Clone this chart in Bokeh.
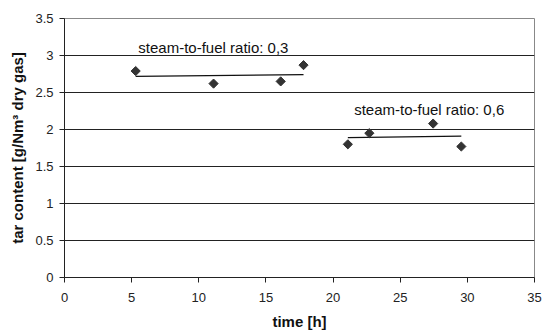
import numpy as np
from bokeh.plotting import figure
from bokeh.models import Range1d, FixedTicker, Label
from bokeh.embed import file_html
from bokeh.resources import INLINE

time_03 = [5.3, 11.1, 16.1, 17.8]
tar_03 = [2.79, 2.62, 2.65, 2.87]
time_06 = [21.1, 22.7, 27.45, 29.55]
tar_06 = [1.80, 1.95, 2.08, 1.77]
label_03 = "steam-to-fuel ratio: 0,3"
label_06 = "steam-to-fuel ratio: 0,6"
x_ticks = [0, 5, 10, 15, 20, 25, 30, 35]
y_ticks = [0, 0.5, 1, 1.5, 2, 2.5, 3, 3.5]

FONT = "Liberation Sans"

p = figure(output_backend="svg", toolbar_location=None,
           frame_width=470, frame_height=259,
           min_border_left=64, min_border_right=13, min_border_top=18, min_border_bottom=55,
           x_range=Range1d(0, 35), y_range=Range1d(0, 3.5))
p.background_fill_color = "white"
p.border_fill_color = "white"
p.outline_line_color = "#888888"

for ax in (p.xaxis[0], p.yaxis[0]):
    ax.axis_line_color = "#222222"
    ax.major_tick_line_color = "#222222"
    ax.major_tick_in = 0
    ax.major_tick_out = 5
    ax.minor_tick_line_color = None
    ax.major_label_text_font = FONT
    ax.major_label_text_font_size = "13px"
    ax.major_label_text_color = "#222222"
    ax.axis_label_text_font = FONT
    ax.axis_label_text_font_size = "15px"
    ax.axis_label_text_font_style = "bold"
    ax.axis_label_text_color = "#111111"

p.xaxis.ticker = FixedTicker(ticks=x_ticks)
p.yaxis.ticker = FixedTicker(ticks=y_ticks)
p.xaxis.major_label_standoff = 10
p.yaxis.major_label_standoff = 6
p.xaxis.axis_label = "time [h]"
p.yaxis.axis_label = "tar content [g/Nm³ dry gas]"
p.xaxis.axis_label_standoff = 8
p.yaxis.axis_label_standoff = 6

p.xgrid.grid_line_color = None
p.ygrid.grid_line_color = "#222222"
p.ygrid.grid_line_width = 1

for xs, ys in ((time_03, tar_03), (time_06, tar_06)):
    k, b = np.polyfit(xs, ys, 1)
    x0, x1 = min(xs), max(xs)
    p.line([x0, x1], [k * x0 + b, k * x1 + b], line_color="#111111", line_width=1.3)
    p.scatter(xs, ys, marker="square", angle=np.pi / 4, size=6.5,
              fill_color="#333333", line_color="#333333")

p.add_layout(Label(x=5.5, y=3.11, text=label_03, text_font=FONT, text_font_size="15px",
                   text_baseline="middle", text_color="#111111"))
p.add_layout(Label(x=21.57, y=2.27, text=label_06, text_font=FONT, text_font_size="15px",
                   text_baseline="middle", text_color="#111111"))

open("out.html", "w").write(file_html(p, INLINE))
